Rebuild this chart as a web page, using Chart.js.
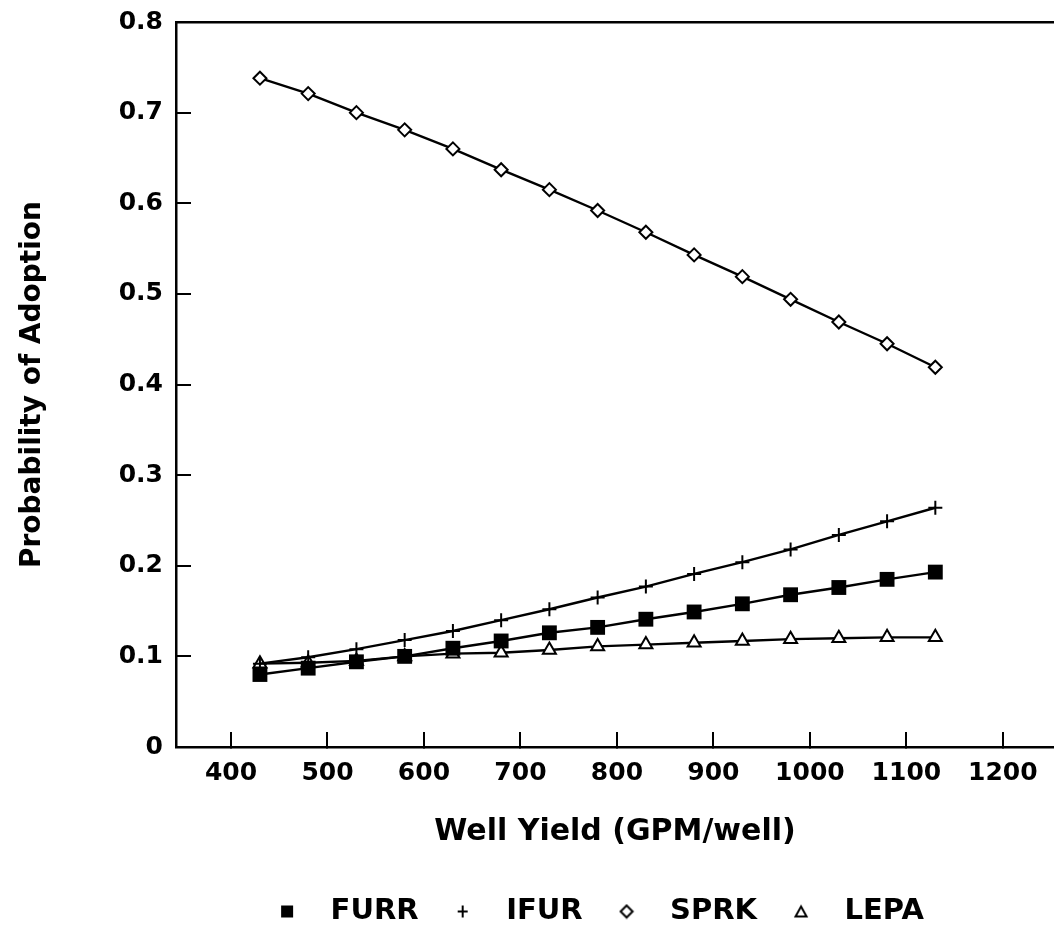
<!DOCTYPE html>
<html>
<head>
<meta charset="utf-8">
<script src="https://cdn.jsdelivr.net/npm/chart.js@4"></script>
<style>
  html, body { margin: 0; padding: 0; background: #fff; overflow: hidden; }
</style>
</head>
<body>
<canvas id="chart" width="1054" height="932"></canvas>
<script>
// ---- data ----
const wellYield = [430, 480, 530, 580, 630, 680, 730, 780, 830, 880, 930, 980, 1030, 1080, 1130];
const furr = [0.080, 0.087, 0.094, 0.100, 0.109, 0.117, 0.126, 0.132, 0.141, 0.149, 0.158, 0.168, 0.176, 0.185, 0.193];
const ifur = [0.092, 0.099, 0.108, 0.118, 0.128, 0.140, 0.152, 0.165, 0.177, 0.191, 0.204, 0.218, 0.234, 0.249, 0.264];
const sprk = [0.738, 0.721, 0.700, 0.681, 0.660, 0.637, 0.615, 0.592, 0.568, 0.543, 0.519, 0.494, 0.469, 0.445, 0.419];
const lepa = [0.092, 0.093, 0.095, 0.100, 0.103, 0.104, 0.107, 0.111, 0.113, 0.115, 0.117, 0.119, 0.120, 0.121, 0.121];
const seriesNames = ["FURR", "IFUR", "SPRK", "LEPA"];
const xTicks = [400, 500, 600, 700, 800, 900, 1000, 1100, 1200];
const yTicks = [0, 0.1, 0.2, 0.3, 0.4, 0.5, 0.6, 0.7, 0.8];

const FONT = "'DejaVu Sans', 'Liberation Sans', sans-serif";

const toPoints = (vals) => vals.map((v, i) => ({ x: wellYield[i], y: v }));

// little marker images for the legend
const makeMarker = (kind) => {
  const c = document.createElement("canvas");
  c.width = 16;
  c.height = 16;
  const g = c.getContext("2d");
  g.strokeStyle = "#000";
  g.fillStyle = "#000";
  g.lineWidth = 2;
  g.beginPath();
  if (kind === "square") {
    g.fillRect(2, 2, 12, 12);
  } else if (kind === "plus") {
    g.moveTo(3, 8); g.lineTo(13, 8);
    g.moveTo(8, 2); g.lineTo(8, 14);
    g.stroke();
  } else if (kind === "diamond") {
    g.moveTo(8, 2); g.lineTo(14, 8); g.lineTo(8, 14); g.lineTo(2, 8); g.closePath();
    g.stroke();
  } else {
    g.moveTo(8, 3); g.lineTo(13.5, 13); g.lineTo(2.5, 13); g.closePath();
    g.stroke();
  }
  return c;
};
const legendMarkers = [makeMarker("square"), makeMarker("plus"), makeMarker("diamond"), makeMarker("triangle")];

const baseSet = {
  borderColor: "#000",
  borderWidth: 2.4,
  tension: 0,
  fill: false,
  pointBorderColor: "#000",
  pointBorderWidth: 2,
};

// shift the legend so it sits where it is in the figure
const shiftLegend = {
  id: "shiftLegend",
  afterLayout(chart) {
    const lg = chart.legend;
    lg.left = 128;
    lg.right = 1054;
    lg.width = lg.right - lg.left;
  },
};

const noScalePadding = (scale) => {
  scale.paddingLeft = 0;
  scale.paddingRight = 0;
  scale.paddingTop = 0;
  scale.paddingBottom = 0;
};

new Chart(document.getElementById("chart"), {
  type: "line",
  data: {
    datasets: [
      { ...baseSet, label: seriesNames[0], data: toPoints(furr), pointStyle: "rect", pointRadius: 10.5, pointBackgroundColor: "#000", pointBorderWidth: 0 },
      { ...baseSet, label: seriesNames[1], data: toPoints(ifur), pointStyle: "cross", pointRadius: 7, pointBackgroundColor: "#000" },
      { ...baseSet, label: seriesNames[2], data: toPoints(sprk), pointStyle: "rectRot", pointRadius: 6.5, pointBackgroundColor: "#fff" },
      { ...baseSet, label: seriesNames[3], data: toPoints(lepa), pointStyle: "triangle", pointRadius: 7.5, pointBackgroundColor: "#fff" },
    ],
  },
  plugins: [shiftLegend],
  options: {
    responsive: false,
    animation: false,
    layout: { autoPadding: false, padding: { top: 22, left: 0, right: 0, bottom: -4 } },
    plugins: {
      tooltip: { enabled: false },
      legend: {
        position: "bottom",
        labels: {
          usePointStyle: true,
          pointStyleWidth: 58,
          padding: 15,
          color: "#000",
          font: { family: FONT, size: 29, weight: "bold" },
          generateLabels: (chart) =>
            chart.data.datasets.map((ds, i) => ({
              text: ds.label,
              pointStyle: legendMarkers[i],
              fillStyle: "#000",
              strokeStyle: "#000",
              lineWidth: 0,
              hidden: false,
              datasetIndex: i,
            })),
        },
      },
    },
    scales: {
      x: {
        type: "linear",
        position: "bottom",
        min: 343,
        max: 1253,
        afterBuildTicks: (scale) => { scale.ticks = xTicks.map((v) => ({ value: v })); },
        afterFit: (scale) => { scale.height = 135; noScalePadding(scale); },
        grid: { drawOnChartArea: false, tickLength: -15, color: "#000", lineWidth: 2 },
        border: { display: true, color: "#000", width: 2.5 },
        ticks: {
          color: "#000",
          padding: 26,
          maxRotation: 0,
          font: { family: FONT, size: 25, weight: "bold" },
          callback: (v) => String(v),
        },
        title: {
          display: true,
          text: "Well Yield (GPM/well)",
          color: "#000",
          padding: { top: 0, bottom: 32 },
          font: { family: FONT, size: 30, weight: "bold" },
        },
      },
      xTop: {
        type: "linear",
        position: "top",
        min: 343,
        max: 1253,
        afterFit: (scale) => { scale.height = 0; noScalePadding(scale); },
        grid: { display: false, drawTicks: false },
        border: { display: true, color: "#000", width: 2.5 },
        ticks: { display: false },
      },
      y: {
        type: "linear",
        min: 0,
        max: 0.8,
        afterBuildTicks: (scale) => { scale.ticks = yTicks.map((v) => ({ value: v })); },
        afterFit: (scale) => { scale.width = 176; noScalePadding(scale); },
        grid: { drawOnChartArea: false, tickLength: -15, color: "#000", lineWidth: 2 },
        border: { display: true, color: "#000", width: 2.5 },
        ticks: {
          color: "#000",
          padding: 28,
          font: { family: FONT, size: 25, weight: "bold" },
          callback: (v) => (v === 0 ? "0" : v.toFixed(1)),
        },
        title: {
          display: true,
          text: "Probability of Adoption",
          color: "#000",
          padding: { top: 16, bottom: 0 },
          font: { family: FONT, size: 28, weight: "bold" },
        },
      },
    },
  },
});
</script>
</body>
</html>
